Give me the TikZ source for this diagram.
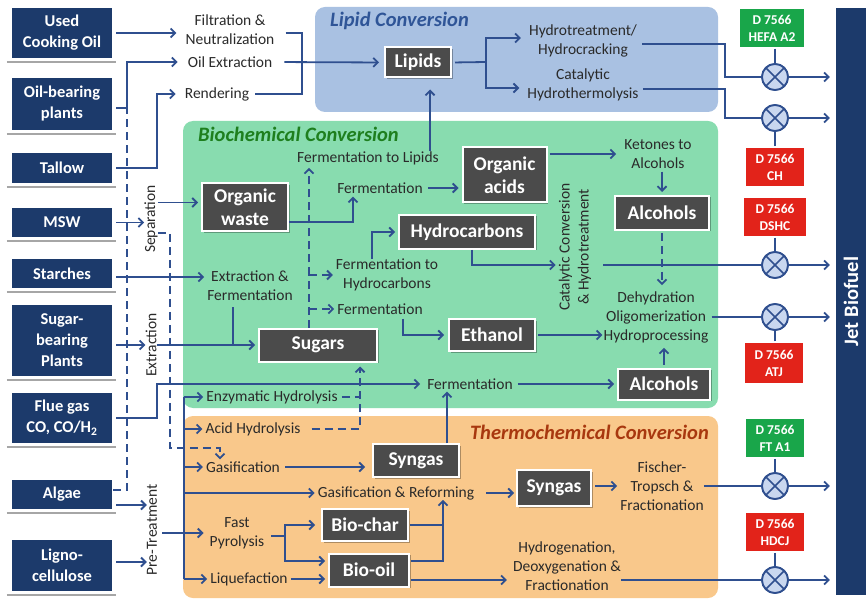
\documentclass[tikz,border=0pt]{standalone}
\usepackage{fontspec}
\setmainfont{Carlito}
\usetikzlibrary{arrows.meta,shadows}
\definecolor{navy}{HTML}{1C3A6B}
\definecolor{lc}{HTML}{2F4F8F}
\definecolor{lipidbg}{HTML}{A9C1E2}
\definecolor{biobg}{HTML}{88DCAF}
\definecolor{thermobg}{HTML}{F9C88B}
\definecolor{gfill}{HTML}{4B4B4B}
\definecolor{certg}{HTML}{19A64A}
\definecolor{certr}{HTML}{E2231A}
\definecolor{txt}{HTML}{2A2A2A}
\definecolor{mixfill}{HTML}{C9D7EF}
\definecolor{lipidt}{HTML}{2F5597}
\definecolor{biot}{HTML}{1E7F1E}
\definecolor{thermot}{HTML}{A8380F}
\definecolor{shline}{HTML}{A6A6A6}
\tikzset{
  src/.style={fill=navy, text=white, font=\fontsize{16.5}{21}\selectfont\bfseries, align=center, inner sep=0pt, minimum width=100pt},
  gbox/.style={fill=gfill, draw=white, line width=2pt, text=white, font=\fontsize{19.5}{23}\selectfont\bfseries, align=center, inner sep=0pt, drop shadow={shadow xshift=1.5pt, shadow yshift=-1.5pt, fill=black, opacity=0.3}},
  lbl/.style={text=txt, font=\fontsize{15.5}{19}\selectfont, align=center, inner sep=0pt},
  rlbl/.style={lbl, rotate=90},
  cert/.style={text=white, font=\fontsize{13.5}{17}\selectfont\bfseries, align=center, inner sep=0pt, minimum height=40pt, minimum width=60pt, draw=white, line width=1.5pt, drop shadow={shadow xshift=1pt, shadow yshift=-1pt, fill=black, opacity=0.25}},
  mix/.style={circle, minimum size=26pt, inner sep=0pt, fill=mixfill, draw=lc, line width=1.8pt, path picture={\draw[lc, line width=1.6pt] (path picture bounding box.north west) -- (path picture bounding box.south east) (path picture bounding box.north east) -- (path picture bounding box.south west);}},
  wire/.style={draw=lc, line width=1.8pt},
  conn/.style={wire, -{Straight Barb[length=4.5pt,width=9pt]}},
  dline/.style={wire, dash pattern=on 8pt off 5pt},
  dconn/.style={conn, dash pattern=on 8pt off 5pt},
  region/.style={rounded corners=10pt},
  ttl/.style={font=\fontsize{20.5}{24}\selectfont\bfseries\itshape, inner sep=0pt},
}
\begin{document}
\begin{tikzpicture}[x=1pt,y=-1pt]
\useasboundingbox (0,0) rectangle (866,601);
\fill[white] (0,0) rectangle (866,601);
% regions
\fill[lipidbg, region] (315,7) rectangle (718,112);
\fill[biobg, region] (183,121) rectangle (718,408);
\fill[thermobg, region] (183,416) rectangle (718,598);
\node[ttl, text=lipidt, anchor=west] (tlip) at (330,21) {Lipid Conversion};
\node[ttl, text=biot, anchor=west] (tbio) at (198,134) {Biochemical Conversion};
\node[ttl, text=thermot, anchor=east] (tthm) at (709,432) {Thermochemical Conversion};
% sources
\node[src, minimum height=50pt] (ucol) at (62,33) {Used\\Cooking Oil};
\node[src, minimum height=52pt] (oilp) at (62,104) {Oil-bearing\\plants};
\node[src, minimum height=30pt] (tallow) at (62,168) {Tallow};
\node[src, minimum height=29pt] (msw) at (62,222.5) {MSW};
\node[src, minimum height=29pt] (starch) at (62,273.5) {Starches};
\node[src, minimum height=71pt] (sugarp) at (62,340.5) {Sugar-\\bearing\\Plants};
\node[src, minimum height=50pt] (flue) at (62,418) {Flue gas\\CO, CO/H\textsubscript{2}};
\node[src, minimum height=29pt] (algae) at (62,494.5) {Algae};
\node[src, minimum height=51pt] (ligno) at (62,565.5) {Ligno-\\cellulose};
\foreach \n in {ucol,oilp,tallow,msw,starch,sugarp,flue,algae,ligno}
  \draw[shline, line width=1.5pt] ([xshift=-5pt,yshift=-4pt]\n.south west) -- ([xshift=4pt,yshift=-4pt]\n.south east);
% jet biofuel
\node[fill=navy, rotate=90, minimum width=587pt, minimum height=30pt, inner sep=0pt, text=white, font=\fontsize{20.5}{24}\selectfont\bfseries] (jet) at (851,301.5) {Jet Biofuel};
% certificates
\node[cert, fill=certg, minimum width=66pt] (hefa) at (772,28) {D 7566\\HEFA A2};
\node[cert, fill=certr] (ch) at (775,167) {D 7566\\CH};
\node[cert, fill=certr, minimum width=64pt] (dshc) at (775,217) {D 7566\\DSHC};
\node[cert, fill=certr, minimum height=42pt] (atj) at (774,363) {D 7566\\ATJ};
\node[cert, fill=certg] (fta) at (775,438) {D 7566\\FT A1};
\node[cert, fill=certr] (hdcj) at (775,532) {D 7566\\HDCJ};
% gray boxes
\node[gbox, minimum width=66pt, minimum height=30pt] (lipids) at (418,62.5) {Lipids};
\node[gbox, minimum width=86pt, minimum height=48pt] (orgw) at (245,207.5) {Organic\\waste};
\node[gbox, minimum width=84pt, minimum height=55pt] (orga) at (504.5,175) {Organic\\acids};
\node[gbox, minimum width=94pt, minimum height=34pt] (alc1) at (662,213) {Alcohols};
\node[gbox, minimum width=92pt, minimum height=31pt] (alc2) at (664,384) {Alcohols};
\node[gbox, minimum width=136pt, minimum height=34pt] (hyc) at (467,232) {Hydrocarbons};
\node[gbox, minimum width=86pt, minimum height=32pt] (eth) at (492,335) {Ethanol};
\node[gbox, minimum width=118pt, minimum height=33pt] (sug) at (318,345) {Sugars};
\node[gbox, minimum width=86pt, minimum height=33pt] (syn1) at (416,460.5) {Syngas};
\node[gbox, minimum width=74pt, minimum height=36pt] (syn2) at (554,488) {Syngas};
\node[gbox, minimum width=86pt, minimum height=32pt] (bchar) at (365,525) {Bio-char};
\node[gbox, minimum width=80pt, minimum height=33pt] (boil) at (369,570) {Bio-oil};
% labels
\node[lbl] (filt) at (230,30) {Filtration \&\\Neutralization};
\node[lbl] (oilx) at (230,62) {Oil Extraction};
\node[lbl] (rend) at (217,94) {Rendering};
\node[lbl] (hydro) at (583,41) {Hydrotreatment/\\Hydrocracking};
\node[lbl] (cath) at (583,85) {Catalytic\\Hydrothermolysis};
\node[lbl] (ferml) at (368,158) {Fermentation to Lipids};
\node[lbl] (ferm1) at (380,188) {Fermentation};
\node[lbl] (keto) at (658,154) {Ketones to\\Alcohols};
\node[lbl] (dehy) at (656,317) {Dehydration\\Oligomerization\\Hydroprocessing};
\node[rlbl] (catc) at (575,247) {Catalytic Conversion\\\& Hydrotreatment};
\node[lbl] (fermh) at (387,275) {Fermentation to\\Hydrocarbons};
\node[lbl] (ferm2) at (380,309) {Fermentation};
\node[lbl] (extf) at (250,286) {Extraction \&\\Fermentation};
\node[rlbl] (sep) at (151,219) {Separation};
\node[rlbl] (extr) at (151,345) {Extraction};
\node[rlbl] (ptr) at (152,530) {Pre-Treatment};
\node[lbl] (enz) at (272,397) {Enzymatic Hydrolysis};
\node[lbl] (ferm3) at (470,384) {Fermentation};
\node[lbl] (acid) at (253,429) {Acid Hydrolysis};
\node[lbl] (gasi) at (243,467) {Gasification};
\node[lbl] (gasr) at (396,493) {Gasification \& Reforming};
\node[lbl] (fisc) at (662,486) {Fischer-\\Tropsch \&\\Fractionation};
\node[lbl] (fast) at (237,533) {Fast\\Pyrolysis};
\node[lbl] (liq) at (249,579) {Liquefaction};
\node[lbl] (hdo) at (567,566) {Hydrogenation,\\Deoxygenation \&\\Fractionation};
% helper coordinates
\coordinate (j1) at (127,108);
\coordinate (j2) at (157,94);
\coordinate (j3) at (302,94);
\coordinate (j4) at (486,62);
\coordinate (j5) at (725,0);
\coordinate (j6) at (430,0);
\coordinate (j7) at (309,0);
\coordinate (d1) at (170,233);
\coordinate (d2) at (220,448);
\coordinate (j8) at (233,0);
\coordinate (j9) at (353,222);
\coordinate (j10) at (372,0);
\coordinate (j11) at (403,0);
\coordinate (j12) at (360,0);
\coordinate (j13) at (157,384);
\coordinate (j14) at (447,0);
\coordinate (pv) at (184,0);
\coordinate (j15) at (285,536);
\coordinate (j16) at (443,0);
\coordinate (oiA) at ([yshift=-4pt]oilp.east);
\coordinate (stA) at ([yshift=-3.5pt]starch.east);
\coordinate (spA) at ([yshift=-4.5pt]sugarp.east);
\coordinate (alD) at ([yshift=4.5pt]algae.east);
\coordinate (alA) at ([yshift=-10.5pt]algae.east);
\coordinate (liA) at ([yshift=3.5pt]ligno.east);
\coordinate (owin) at ([yshift=5pt]orgw.west);
\coordinate (hyA) at ([yshift=3pt]hydro.west);
\coordinate (hyB) at ([xshift=5pt,yshift=-3pt]hydro.east);
\coordinate (caA) at ([yshift=-3pt]cath.west);
\coordinate (caB) at ([xshift=4pt,yshift=-4pt]cath.east);
\coordinate (hcA) at ([xshift=5pt]hyc.south);
\coordinate (boA) at ([yshift=9pt]boil.west);
\coordinate (boB) at ([yshift=-10pt]boil.west);
\coordinate (boC) at ([yshift=9pt]boil.east);
\coordinate (boD) at ([yshift=-10pt]boil.east);
% mixers
\node[mix] (m1) at (775,77) {};
\node[mix] (m2) at (775,118) {};
\node[mix] (m3) at (775,265) {};
\node[mix] (m4) at (775,317) {};
\node[mix] (m5) at (775,486) {};
\node[mix] (m6) at (775,580) {};
% lipid feeds
\draw[conn, shorten <=4pt, shorten >=9pt] (ucol.east) -- (ucol.east -| filt.west);
\draw[conn, shorten <=4pt, shorten >=10pt] (oiA) -- (j1) |- (oilx.west);
\draw[conn, shorten <=4pt, shorten >=9pt] (tallow.east) -| (j2) -- (j2 -| rend.west);
\draw[wire, shorten <=11pt, shorten >=6pt] (filt.east |- ucol.east) -| (j3) -- (rend.east);
\draw[conn, shorten <=12pt, shorten >=5pt] (oilx.east) -- (lipids.west);
\draw[conn, shorten <=3pt, shorten >=8pt] (lipids.east) -- (j4) |- (hyA);
\draw[conn, shorten >=8pt] (j4) |- (caA);
\draw[wire] (hyB) -| (j5 |- m1) -- (m1.west);
\draw[wire] (caB) -| (j5 |- m2) -- (m2.west);
% certificates to mixers
\draw[wire] (hefa.south -| m1.north) -- (m1.north);
\draw[wire] (ch.north) -- (m2.south);
\draw[wire] (dshc.south) -- (m3.north);
\draw[wire] (atj.north -| m4.south) -- (m4.south);
\draw[wire] (fta.south) -- (m5.north);
\draw[wire] (hdcj.south) -- (m6.north);
\foreach \m in {m1,m2,m3,m4,m5,m6}
  \draw[conn, shorten >=6pt] (\m.east) -- (\m.east -| jet.north);
% biochemical
\draw[conn, shorten >=11pt] (ferml.north -| j6) -- (lipids.south -| j6);
\draw[dconn, shorten >=3pt] (sug.north -| j7) -- (ferml.south -| j7);
\draw[dconn, shorten >=3pt] (j7 |- fermh.west) -- (fermh.west);
\draw[dconn, shorten >=3pt] (j7 |- ferm2.west) -- (ferm2.west);
\draw[conn, shorten <=4pt] (msw.east) -- (msw.east -| sep.north);
\draw[conn, shorten >=3pt] (sep.south |- owin) -- (owin);
\draw[dconn, shorten >=2pt] (sep.south |- d1) -- (d1) |- (d2) -- (d2 |- gasi.north);
\draw[dline, shorten <=1pt] (alD) -| (j1);
\draw[conn, shorten <=4pt, shorten >=3pt] (stA) -- (stA -| extf.west);
\draw[conn, shorten <=4pt] (spA) -- (spA -| extr.north);
\draw[conn, shorten >=3pt] (extr.south |- sug.west) -- (sug.west);
\draw[wire, shorten <=6pt] (extf.south -| j8) -- (j8 |- sug.west);
\draw[conn, shorten >=3pt] (orgw.east |- j9) -- (j9) -- (j9 |- ferm1.south);
\draw[conn, shorten <=5pt, shorten >=3pt] (ferm1.east) -- (ferm1.east -| orga.west);
\draw[conn, shorten <=2pt, shorten >=8pt] (orga.east |- keto.west) -- (keto.west);
\draw[conn, shorten <=3pt, shorten >=3pt] (keto.south -| alc1.north) -- (alc1.north);
\draw[dconn, shorten <=2pt, shorten >=6pt] (alc1.south) -- (alc1.south |- dehy.north);
\draw[conn, shorten <=3pt, shorten >=5pt] (alc2.north) -- (alc2.north |- dehy.south);
\draw[conn, shorten >=3pt] (hcA) |- (catc.north |- m3);
\draw[wire, shorten <=12pt] (catc.south |- m3) -- (m3.west);
\draw[conn, shorten >=3pt] (fermh.north -| j10) |- (hyc.west);
\draw[conn, shorten <=4pt, shorten >=4pt] (ferm2.south -| j11) |- (eth.west);
\draw[conn, shorten <=2pt, shorten >=1pt] (eth.east) -- (eth.east -| dehy.west);
\draw[wire, shorten <=3pt] (dehy.east) -- (m4.west);
\draw[dline, shorten <=4pt] (enz.east) -- (j12 |- enz.east);
\draw[dconn, shorten <=11pt, shorten >=4pt] (acid.east) -| (j12 |- sug.south);
\draw[conn, shorten <=4pt, shorten >=7pt] (flue.east) -| (j13) -- (j13 -| ferm3.west);
\draw[conn, shorten <=5pt, shorten >=3pt] (ferm3.east) -- (ferm3.east -| alc2.west);
\draw[conn, shorten >=2pt] (syn1.north -| j14) -- (j14 |- ferm3.south);
% pre-treatment
\draw[wire] (pv |- enz.west) -- (pv |- liq.west);
\foreach \t in {enz,acid,gasi,gasr,liq}
  \draw[conn, shorten >=3pt] (pv |- \t.west) -- (\t.west);
\draw[conn, shorten <=5pt, shorten >=6pt] (ptr.south |- fast.west) -- (fast.west);
\draw[conn, shorten <=4pt] (alA) -- (alA -| ptr.north);
\draw[conn, shorten <=4pt] (liA) -- (liA -| ptr.north);
% thermochemical
\draw[conn, shorten <=5pt, shorten >=7pt] (gasi.east) -- (gasi.east -| syn1.west);
\draw[conn, shorten <=12pt, shorten >=2pt] (gasr.east) -- (gasr.east -| syn2.west);
\draw[conn, shorten <=3pt, shorten >=3pt] (syn2.east |- fisc.west) -- (fisc.west);
\draw[wire] (fisc.east) -- (m5.west);
\draw[wire, shorten <=7pt] (fast.east |- j15) -- (j15);
\draw[conn, shorten >=6pt] (j15) |- (bchar.west);
\draw[conn, shorten >=3pt] (j15) |- (boA);
\draw[conn, shorten <=3pt, shorten >=3pt] (liq.east) -- (liq.east -| boB);
\draw[wire, shorten <=1pt] (bchar.east) -- (j16 |- bchar.east);
\draw[conn, shorten <=1pt] (boC) -| (j16 |- gasr.south);
\draw[conn, shorten <=1pt, shorten >=6pt] (boD) -- (boD -| hdo.west);
\draw[wire] (hdo.east |- m6) -- (m6.west);
% redraw mixers on top
\foreach \m in {m1,m2,m3,m4,m5,m6}
  \node[mix] (\m r) at (\m) {};
\end{tikzpicture}
\end{document}
